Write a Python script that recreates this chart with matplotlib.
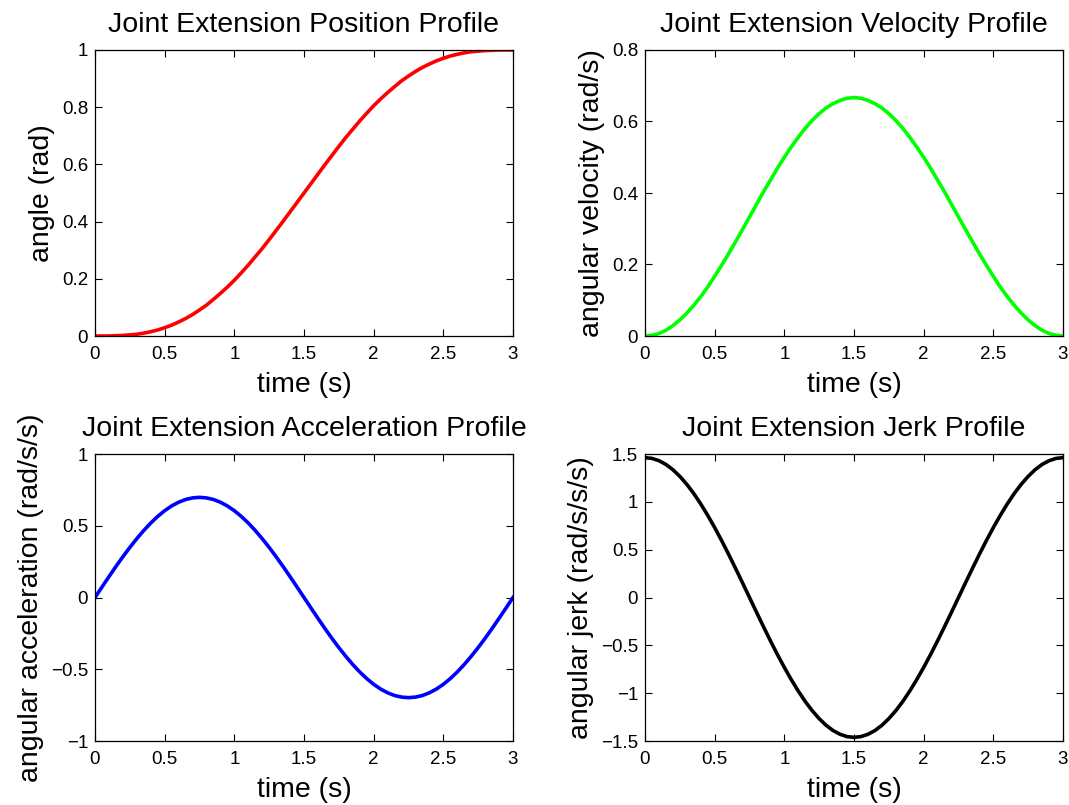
import matplotlib
matplotlib.use("Agg")
import matplotlib.pyplot as plt

plt.rcParams['font.family'] = ['Liberation Sans', 'DejaVu Sans']
plt.rcParams['axes.unicode_minus'] = True

time_s = [0.00, 0.05, 0.10, 0.15, 0.20, 0.25, 0.30, 0.35, 0.40, 0.45, 0.50, 0.55, 0.60, 0.65,
          0.70, 0.75, 0.80, 0.85, 0.90, 0.95, 1.00, 1.05, 1.10, 1.15, 1.20, 1.25, 1.30, 1.35,
          1.40, 1.45, 1.50, 1.55, 1.60, 1.65, 1.70, 1.75, 1.80, 1.85, 1.90, 1.95, 2.00, 2.05,
          2.10, 2.15, 2.20, 2.25, 2.30, 2.35, 2.40, 2.45, 2.50, 2.55, 2.60, 2.65, 2.70, 2.75,
          2.80, 2.85, 2.90, 2.95, 3.00]

angle = [0.000, 0.000, 0.000, 0.001, 0.002, 0.004, 0.006, 0.010, 0.015, 0.021, 0.029,
         0.038, 0.049, 0.061, 0.075, 0.091, 0.108, 0.128, 0.149, 0.171, 0.195, 0.221,
         0.248, 0.277, 0.306, 0.337, 0.369, 0.401, 0.434, 0.467, 0.500, 0.533, 0.566,
         0.599, 0.631, 0.663, 0.694, 0.723, 0.752, 0.779, 0.805, 0.829, 0.851, 0.872,
         0.892, 0.909, 0.925, 0.939, 0.951, 0.962, 0.971, 0.979, 0.985, 0.990, 0.994,
         0.996, 0.998, 0.999, 1.000, 1.000, 1.000]

velocity = [0.000, 0.002, 0.007, 0.016, 0.029, 0.045, 0.064, 0.086, 0.110, 0.137, 0.167,
            0.198, 0.230, 0.264, 0.298, 0.333, 0.368, 0.403, 0.436, 0.469, 0.500, 0.529,
            0.556, 0.581, 0.603, 0.622, 0.638, 0.650, 0.659, 0.665, 0.667, 0.665, 0.659,
            0.650, 0.638, 0.622, 0.603, 0.581, 0.556, 0.529, 0.500, 0.469, 0.436, 0.403,
            0.368, 0.333, 0.298, 0.264, 0.230, 0.198, 0.167, 0.137, 0.110, 0.086, 0.064,
            0.045, 0.029, 0.016, 0.007, 0.002, 0.000]

acceleration = [0.000, 0.073, 0.145, 0.216, 0.284, 0.349, 0.410, 0.467, 0.519, 0.565, 0.605,
                0.638, 0.664, 0.683, 0.694, 0.698, 0.694, 0.683, 0.664, 0.638, 0.605, 0.565,
                0.519, 0.467, 0.410, 0.349, 0.284, 0.216, 0.145, 0.073, 0.000, -0.073, -0.145,
                -0.216, -0.284, -0.349, -0.410, -0.467, -0.519, -0.565, -0.605, -0.638, -0.664,
                -0.683, -0.694, -0.698, -0.694, -0.683, -0.664, -0.638, -0.605, -0.565, -0.519,
                -0.467, -0.410, -0.349, -0.284, -0.216, -0.145, -0.073, 0.000]

jerk = [1.462, 1.454, 1.430, 1.391, 1.336, 1.266, 1.183, 1.087, 0.978, 0.859, 0.731,
        0.595, 0.452, 0.304, 0.153, 0.000, -0.153, -0.304, -0.452, -0.595, -0.731, -0.859,
        -0.978, -1.087, -1.183, -1.266, -1.336, -1.391, -1.430, -1.454, -1.462, -1.454,
        -1.430, -1.391, -1.336, -1.266, -1.183, -1.087, -0.978, -0.859, -0.731, -0.595,
        -0.452, -0.304, -0.153, 0.000, 0.153, 0.304, 0.452, 0.595, 0.731, 0.859, 0.978,
        1.087, 1.183, 1.266, 1.336, 1.391, 1.430, 1.454, 1.462]

x_ticks = [0, 0.5, 1, 1.5, 2, 2.5, 3]
x_tick_labels = ['0', '0.5', '1', '1.5', '2', '2.5', '3']

panels = [
    dict(title='Joint Extension Position Profile', ylabel='angle (rad)', y=angle,
         color='#ff0000', ylim=(0, 1), yticks=[0, 0.2, 0.4, 0.6, 0.8, 1],
         yticklabels=['0', '0.2', '0.4', '0.6', '0.8', '1']),
    dict(title='Joint Extension Velocity Profile', ylabel='angular velocity (rad/s)', y=velocity,
         color='#00ff00', ylim=(0, 0.8), yticks=[0, 0.2, 0.4, 0.6, 0.8],
         yticklabels=['0', '0.2', '0.4', '0.6', '0.8']),
    dict(title='Joint Extension Acceleration Profile', ylabel='angular acceleration (rad/s/s)',
         y=acceleration, color='#0000ff', ylim=(-1, 1), yticks=[-1, -0.5, 0, 0.5, 1],
         yticklabels=['\u22121', '\u22120.5', '0', '0.5', '1']),
    dict(title='Joint Extension Jerk Profile', ylabel='angular jerk (rad/s/s/s)', y=jerk,
         color='#000000', ylim=(-1.5, 1.5), yticks=[-1.5, -1, -0.5, 0, 0.5, 1, 1.5],
         yticklabels=['\u22121.5', '\u22121', '\u22120.5', '0', '0.5', '1', '1.5']),
]

W, H = 1069, 805
fig = plt.figure(figsize=(W / 100, H / 100), dpi=100)

boxes = [(95, 50, 513, 336), (645, 50, 1063, 336),
         (95, 454, 513, 741), (645, 454, 1063, 741)]

for p, (x0, y0, x1, y1) in zip(panels, boxes):
    ax = fig.add_axes([x0 / W, 1 - y1 / H, (x1 - x0) / W, (y1 - y0) / H])
    ax.plot(time_s, p['y'], color=p['color'], linewidth=2.6, solid_joinstyle='round')
    ax.set_xlim(0, 3)
    ax.set_ylim(*p['ylim'])
    ax.set_xticks(x_ticks)
    ax.set_xticklabels(x_tick_labels)
    ax.set_yticks(p['yticks'])
    ax.set_yticklabels(p['yticklabels'])
    ax.tick_params(direction='in', top=True, right=True, length=5, width=0.8,
                   labelsize=13.5, colors='black')
    ax.tick_params(axis='y', pad=5)
    ax.tick_params(axis='x', pad=7.5)
    for s in ax.spines.values():
        s.set_linewidth(0.9)
        s.set_color('black')
    ax.set_title(p['title'], fontsize=20.5, pad=13)
    ax.set_xlabel('time (s)', fontsize=20.5, labelpad=6.5)
    ax.set_ylabel(p['ylabel'], fontsize=20.5, labelpad=5)

fig.savefig('out.png', dpi=100, facecolor='white')
